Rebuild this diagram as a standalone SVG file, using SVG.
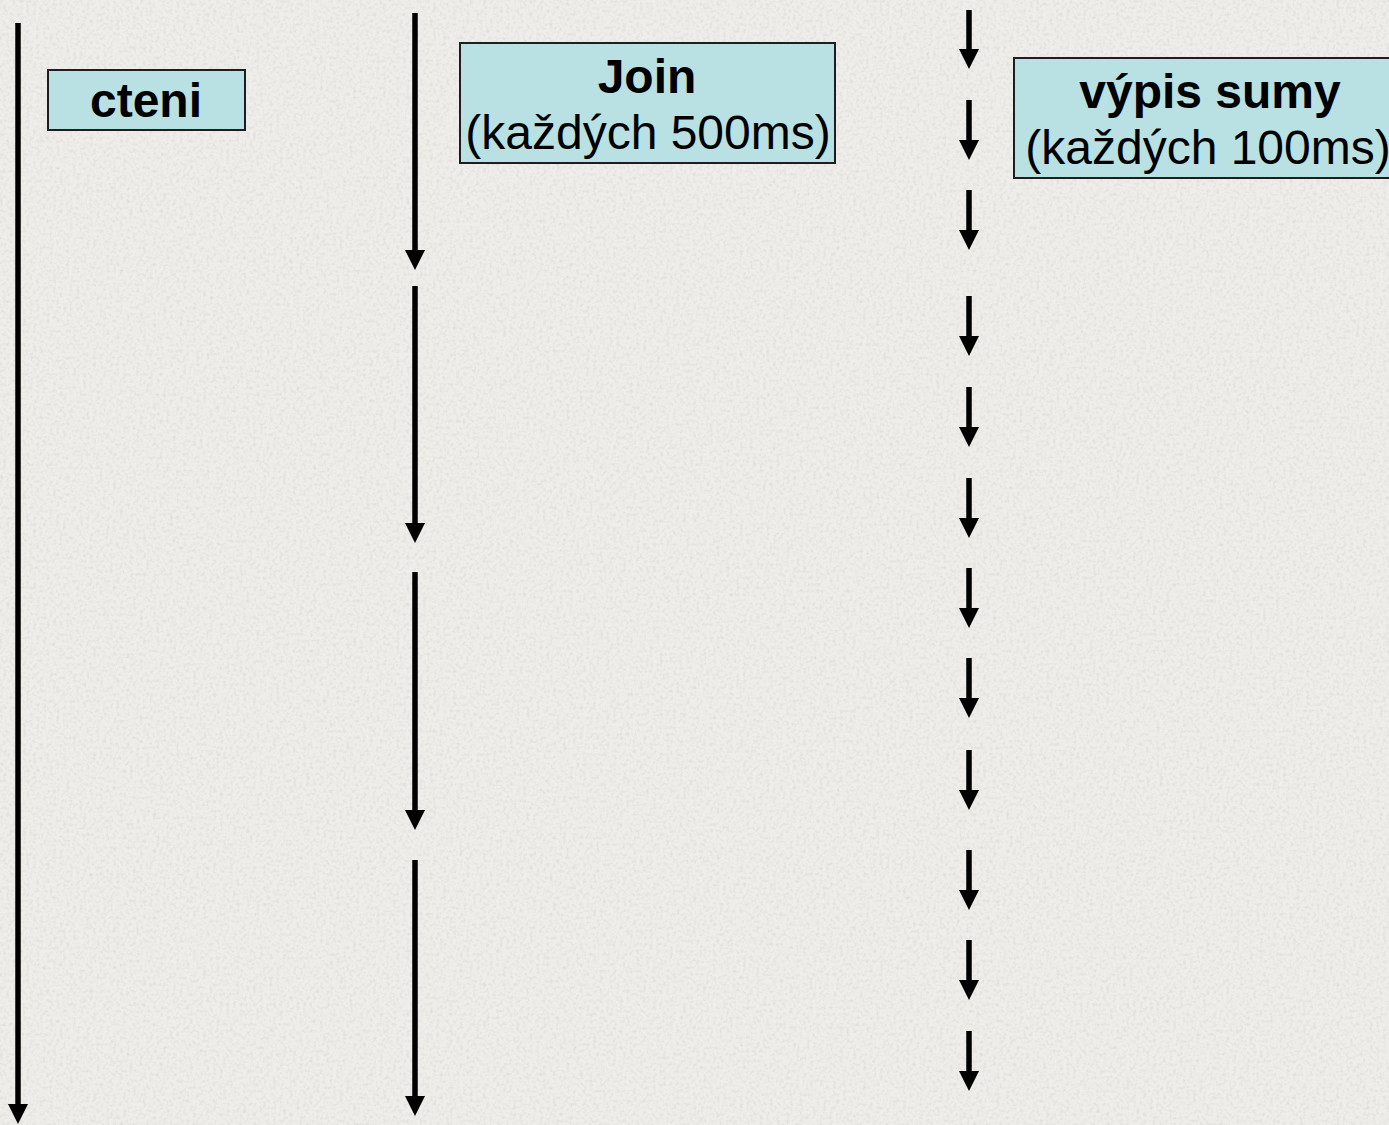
<svg xmlns="http://www.w3.org/2000/svg" width="1389" height="1125" viewBox="0 0 1389 1125">
<defs>
<style>
.box{fill:#b9e0e3;stroke:#1e1e1e;stroke-width:2}
.t{font-family:"Liberation Sans",Arial,sans-serif;font-size:48px;fill:#000;text-anchor:middle}
.b{font-weight:bold}
.a{stroke:#000;stroke-width:5.5;fill:none;marker-end:url(#ah)}
</style>
<marker id="ah" markerUnits="userSpaceOnUse" markerWidth="20" markerHeight="20" viewBox="0 0 20 20" refX="10" refY="10" orient="auto">
<path d="M0,0 L20,10 L0,20 z" fill="#000"/>
</marker>
<filter id="tex" x="0" y="0" width="100%" height="100%">
<feTurbulence type="fractalNoise" baseFrequency="0.3" numOctaves="3" seed="4" result="n"/>
<feColorMatrix in="n" type="matrix" values="0 0 0 0 0.6  0 0 0 0 0.59  0 0 0 0 0.57  0 0 0 -2 1.1" result="c"/>
<feComposite in="c" in2="SourceGraphic" operator="in"/>
</filter>
</defs>
<rect width="1389" height="1125" fill="#eeedea"/>
<rect width="1389" height="1125" fill="#eeedea" filter="url(#tex)" opacity="0.5"/>
<g id="connectors">
<line class="a" x1="18" y1="23" x2="18" y2="1114"/>
<line class="a" x1="415" y1="13" x2="415" y2="260"/>
<line class="a" x1="415" y1="286" x2="415" y2="533"/>
<line class="a" x1="415" y1="572" x2="415" y2="820"/>
<line class="a" x1="415" y1="860" x2="415" y2="1106"/>
<line class="a" x1="969" y1="10" x2="969" y2="59"/>
<line class="a" x1="969" y1="100" x2="969" y2="150"/>
<line class="a" x1="969" y1="190" x2="969" y2="240"/>
<line class="a" x1="969" y1="296" x2="969" y2="346"/>
<line class="a" x1="969" y1="387" x2="969" y2="437"/>
<line class="a" x1="969" y1="478" x2="969" y2="528"/>
<line class="a" x1="969" y1="568" x2="969" y2="618"/>
<line class="a" x1="969" y1="658" x2="969" y2="708"/>
<line class="a" x1="969" y1="750" x2="969" y2="800"/>
<line class="a" x1="969" y1="850" x2="969" y2="900"/>
<line class="a" x1="969" y1="940" x2="969" y2="990"/>
<line class="a" x1="969" y1="1031" x2="969" y2="1081"/>
</g>
<g id="cteni">
<rect class="box" x="48" y="70" width="197" height="60"/>
<text class="t b" x="146" y="117">cteni</text>
</g>
<g id="join">
<rect class="box" x="460" y="43" width="375" height="120"/>
<text class="t b" x="647" y="93">Join</text>
<text class="t" x="648" y="149">(každých 500ms)</text>
</g>
<g id="vypis">
<rect class="box" x="1014" y="58" width="385" height="120"/>
<text class="t b" x="1210" y="108">výpis sumy</text>
<text class="t" x="1208" y="164">(každých 100ms)</text>
</g>
</svg>
